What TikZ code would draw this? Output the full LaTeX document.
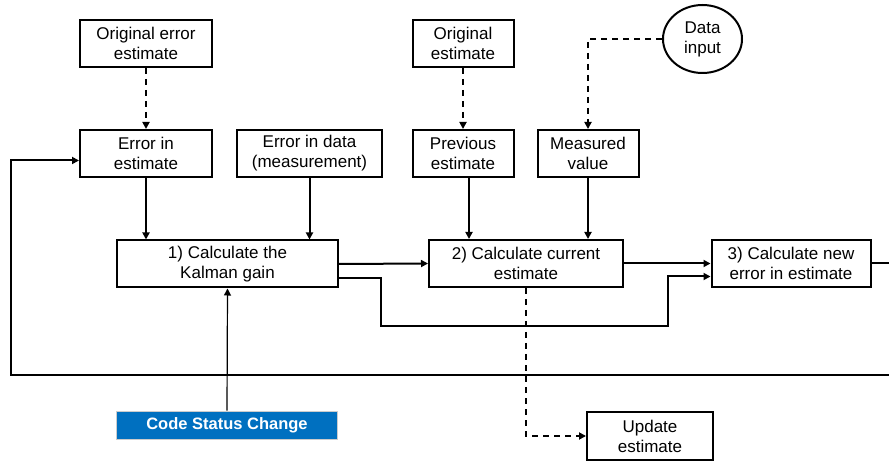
\documentclass[tikz,border=0pt]{standalone}
\usepackage{fontspec}
\setmainfont{Liberation Sans}
\usepackage{tikz}
\usetikzlibrary{arrows.meta,shapes,calc}
\definecolor{codeblue}{RGB}{0,112,192}

\begin{document}
\begin{tikzpicture}[x=1pt, y=-1pt, line width=2pt,
box/.style={draw, rectangle, align=center, inner sep=0pt, minimum height=47pt, font=\fontsize{17}{20}\selectfont},
oval/.style={draw, ellipse, align=center, inner sep=0pt, minimum width=79pt, minimum height=68pt, font=\fontsize{17}{20}\selectfont},
arr/.style={-{Triangle[length=7pt,width=7pt]}},
dash arr/.style={arr, dash pattern=on 6pt off 5pt},
status/.style={fill=codeblue, draw=gray!40, line width=0.6pt, text=white, minimum width=221pt, minimum height=28pt, inner sep=0pt, font=\fontsize{16.5}{19}\selectfont\bfseries}]
\useasboundingbox (0,0) rectangle (889,462);
\node[box, minimum width=132pt] (origerr) at (146,43.5) {Original error\\estimate};
\node[box, minimum width=132pt] (errest) at (146,153.5) {Error in\\estimate};
\node[box, minimum width=145pt] (errdata) at (309.5,153.5) {Error in data\\(measurement)};
\node[box, minimum width=101pt] (origest) at (463,43.5) {Original\\estimate};
\node[box, minimum width=101pt] (prevest) at (463,153.5) {Previous\\estimate};
\node[box, minimum width=101pt] (measval) at (588,153.5) {Measured\\value};
\node[oval] (datain) at (702.5,39) {Data\\input};
\node[box, minimum width=221pt] (gain) at (227.5,264) {1) Calculate the\\Kalman gain};
\node[box, minimum width=194pt] (curest) at (526,263.5) {2) Calculate current\\estimate};
\node[box, minimum width=159pt] (newerr) at (791,263.5) {3) Calculate new\\error in estimate};
\node[box, minimum width=126pt, minimum height=48pt] (update) at (650,436) {Update\\estimate};
\node[status] (status) at (227,425) {Code Status Change};
\coordinate (k1) at (381,326);
\coordinate (k2) at (668,326);
\coordinate (r1) at (905,375);
\coordinate (l1) at (11,375);
\draw[dash arr] (origerr) -- (errest);
\draw[dash arr] (origest) -- (prevest);
\draw[dash arr] (datain.west) -| (measval.north);
\draw[arr] (errest.south) -- (errest.south |- gain.north);
\draw[arr] (errdata.south) -- (errdata.south |- gain.north);
\draw[arr] ([xshift=6pt]prevest.south) -- ([xshift=6pt]prevest.south |- curest.north);
\draw[arr] (measval.south) -- (measval.south |- curest.north);
\draw[arr] (gain.east) -- (curest.west);
\draw[arr] (curest.east) -- (newerr.west);
\draw[arr] ([yshift=-14pt]gain.east) -| (k1) -- (k2) |- ([yshift=-13pt]newerr.west);
\draw[dash arr] (curest.south) |- (update.west);
\draw[arr] (newerr.east) -| (r1) -- (l1) |- ([yshift=-7pt]errest.west);
\draw[arr, line width=1.2pt] (status.north) -- (gain.south);
\end{tikzpicture}
\end{document}
